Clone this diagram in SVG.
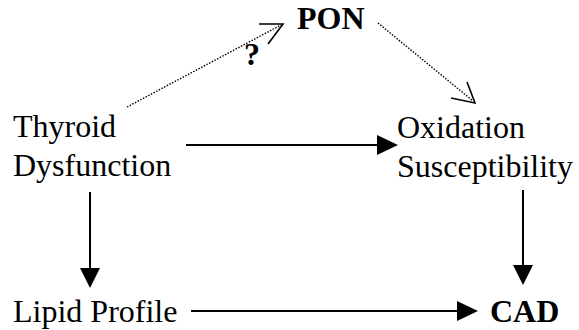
<svg xmlns="http://www.w3.org/2000/svg" width="579" height="330" viewBox="0 0 579 330">
<style>
  text { font-family: "Liberation Serif", "Times New Roman", serif; font-size: 32px; fill: #000; }
  .b { font-weight: bold; }
  .solid { stroke: #000; stroke-width: 2; fill: none; }
  .dot { stroke: #000; stroke-width: 1.4; stroke-dasharray: 1.5 1.5; fill: none; }
  .open { stroke: #000; stroke-width: 1.6; fill: none; }
  .head { fill: #000; stroke: none; }
</style>
<rect width="579" height="330" fill="#fff"/>
<g id="connectors">
  <line class="dot" x1="127" y1="107" x2="281" y2="25"/>
  <polyline class="open" points="259,24 283,24 268,44"/>
  <text class="b" x="244" y="65">?</text>
  <line class="dot" x1="378" y1="23" x2="473" y2="101"/>
  <polyline class="open" points="451,98 475,103 467,82"/>
  <line class="solid" x1="186" y1="145" x2="380" y2="145"/>
  <polygon class="head" points="398,145 377,135 377,155"/>
  <line class="solid" x1="90" y1="192" x2="90" y2="270"/>
  <polygon class="head" points="90,288 80,268 100,268"/>
  <line class="solid" x1="523" y1="190" x2="523" y2="267"/>
  <polygon class="head" points="523,285 513,265 533,265"/>
  <line class="solid" x1="191" y1="311" x2="460" y2="311"/>
  <polygon class="head" points="478,311 457,301 457,321"/>
</g>
<g id="thyroid">
  <text x="13" y="137">Thyroid</text>
  <text x="13" y="176">Dysfunction</text>
</g>
<g id="pon">
  <text class="b" x="297" y="29">PON</text>
</g>
<g id="oxidation">
  <text x="397" y="138">Oxidation</text>
  <text x="397" y="177">Susceptibility</text>
</g>
<g id="lipid">
  <text x="13" y="322">Lipid Profile</text>
</g>
<g id="cad">
  <text class="b" x="490" y="322">CAD</text>
</g>
</svg>
